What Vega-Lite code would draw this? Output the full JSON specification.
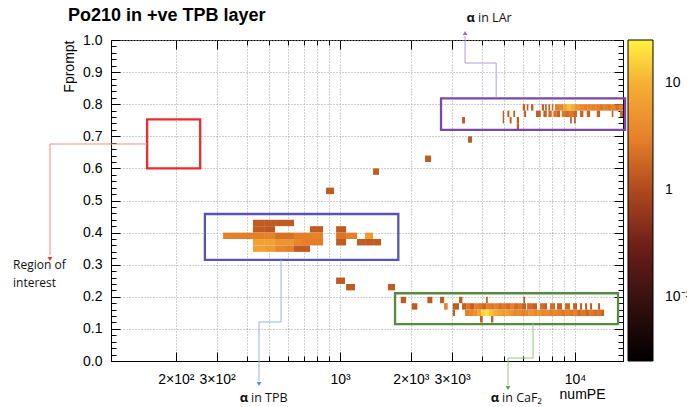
{
"$schema": "https://vega.github.io/schema/vega-lite/v6.json",
"width": 512, "height": 321,
"autosize": {"type": "none"},
"padding": {"left": 111, "top": 40, "right": 64, "bottom": 46},
"background": "white",
"title": {"text": "Po210 in +ve TPB layer", "anchor": "start", "frame": "group", "dx": -43, "offset": -27, "baseline": "alphabetic", "font": "Liberation Sans", "fontSize": 18, "fontWeight": "bold", "color": "#000"},
"config": {"view": {"stroke": "#000", "strokeWidth": 1}, "font": "Liberation Sans"},
"datasets": {
"cells": [
{"a":426,"b":475,"f":0.42,"g":0.44,"n":1.4},{"a":475,"b":529,"f":0.42,"g":0.44,"n":1.4},{"a":529,"b":583,"f":0.42,"g":0.44,"n":1.4},{"a":583,"b":637,"f":0.42,"g":0.44,"n":1.4},
{"a":426,"b":475,"f":0.40,"g":0.42,"n":1.4},{"a":475,"b":529,"f":0.40,"g":0.42,"n":1.3},{"a":745,"b":847,"f":0.40,"g":0.42,"n":1.4},{"a":962,"b":1061,"f":0.40,"g":0.42,"n":1.4},
{"a":318,"b":368,"f":0.38,"g":0.40,"n":3},{"a":368,"b":426,"f":0.38,"g":0.40,"n":3},{"a":426,"b":475,"f":0.38,"g":0.40,"n":3},{"a":475,"b":529,"f":0.38,"g":0.40,"n":3.2},{"a":529,"b":583,"f":0.38,"g":0.40,"n":2.2},{"a":583,"b":637,"f":0.38,"g":0.40,"n":2.2},{"a":637,"b":689,"f":0.38,"g":0.40,"n":3},{"a":689,"b":745,"f":0.38,"g":0.40,"n":3},{"a":745,"b":847,"f":0.38,"g":0.40,"n":3.2},{"a":962,"b":1061,"f":0.38,"g":0.40,"n":2.4},{"a":1061,"b":1181,"f":0.38,"g":0.40,"n":3},{"a":1278,"b":1382,"f":0.38,"g":0.40,"n":6},
{"a":426,"b":475,"f":0.36,"g":0.38,"n":7},{"a":475,"b":529,"f":0.36,"g":0.38,"n":7},{"a":529,"b":583,"f":0.36,"g":0.38,"n":5},{"a":583,"b":637,"f":0.36,"g":0.38,"n":5},{"a":637,"b":689,"f":0.36,"g":0.38,"n":3.5},{"a":689,"b":745,"f":0.36,"g":0.38,"n":3},{"a":745,"b":847,"f":0.36,"g":0.38,"n":2.8},{"a":962,"b":1061,"f":0.36,"g":0.38,"n":1.4},{"a":1181,"b":1278,"f":0.36,"g":0.38,"n":1.4},{"a":1278,"b":1382,"f":0.36,"g":0.38,"n":1.4},{"a":1382,"b":1495,"f":0.36,"g":0.38,"n":1.4},
{"a":426,"b":475,"f":0.34,"g":0.36,"n":7},{"a":475,"b":529,"f":0.34,"g":0.36,"n":6},{"a":529,"b":583,"f":0.34,"g":0.36,"n":3.5},{"a":583,"b":637,"f":0.34,"g":0.36,"n":3},{"a":637,"b":689,"f":0.34,"g":0.36,"n":1.4},{"a":689,"b":745,"f":0.34,"g":0.36,"n":1.4},
{"a":872,"b":943,"f":0.52,"g":0.54,"n":1.4},{"a":1382,"b":1465,"f":0.58,"g":0.60,"n":1.4},{"a":2300,"b":2440,"f":0.62,"g":0.64,"n":1.4},{"a":3505,"b":3645,"f":0.68,"g":0.70,"n":1.4},{"a":962,"b":1050,"f":0.24,"g":0.26,"n":1.4},{"a":1061,"b":1158,"f":0.22,"g":0.24,"n":1.4},{"a":1600,"b":1714,"f":0.22,"g":0.24,"n":1.4},
{"a":1813,"b":1910,"f":0.18,"g":0.20,"n":1.4},{"a":2353,"b":2471,"f":0.18,"g":0.20,"n":1.4},{"a":2664,"b":2771,"f":0.18,"g":0.20,"n":1.4},{"a":3209,"b":3318,"f":0.18,"g":0.20,"n":1.4},{"a":4182,"b":4252,"f":0.18,"g":0.20,"n":1.4},{"a":6026,"b":6128,"f":0.18,"g":0.20,"n":1.4},
{"a":2019,"b":2133,"f":0.16,"g":0.18,"n":1.4},{"a":2771,"b":2872,"f":0.16,"g":0.18,"n":3},{"a":3017,"b":3209,"f":0.16,"g":0.18,"n":1.4},
{"a":3305,"b":3438,"f":0.16,"g":0.18,"n":1.5},{"a":3438,"b":3575,"f":0.16,"g":0.18,"n":2.5},{"a":3575,"b":3718,"f":0.16,"g":0.18,"n":1.5},{"a":3718,"b":3866,"f":0.16,"g":0.18,"n":3},{"a":3866,"b":4021,"f":0.16,"g":0.18,"n":2.5},{"a":4021,"b":4182,"f":0.16,"g":0.18,"n":1.8},{"a":4182,"b":4349,"f":0.16,"g":0.18,"n":3},{"a":4349,"b":4523,"f":0.16,"g":0.18,"n":2.5},{"a":4523,"b":4704,"f":0.16,"g":0.18,"n":3},{"a":4704,"b":4892,"f":0.16,"g":0.18,"n":2.2},{"a":4892,"b":5087,"f":0.16,"g":0.18,"n":2.5},{"a":5087,"b":5291,"f":0.16,"g":0.18,"n":2},{"a":5291,"b":5502,"f":0.16,"g":0.18,"n":3},{"a":5502,"b":5722,"f":0.16,"g":0.18,"n":2},{"a":5722,"b":5951,"f":0.16,"g":0.18,"n":2.5},{"a":5951,"b":6189,"f":0.16,"g":0.18,"n":1.5},{"a":6250,"b":6564,"f":0.16,"g":0.18,"n":2},{"a":6564,"b":6893,"f":0.16,"g":0.18,"n":1.5},{"a":7099,"b":7383,"f":0.16,"g":0.18,"n":2},{"a":7383,"b":7603,"f":0.16,"g":0.18,"n":1.5},{"a":7830,"b":8223,"f":0.16,"g":0.18,"n":2},{"a":8386,"b":8807,"f":0.16,"g":0.18,"n":1.5},{"a":9069,"b":9525,"f":0.16,"g":0.18,"n":1.8},{"a":9809,"b":10201,"f":0.16,"g":0.18,"n":1.5},{"a":10505,"b":10713,"f":0.16,"g":0.18,"n":1.4},{"a":11033,"b":11251,"f":0.16,"g":0.18,"n":1.4},{"a":11587,"b":11816,"f":0.16,"g":0.18,"n":1.4},{"a":12532,"b":12780,"f":0.16,"g":0.18,"n":1.4},
{"a":3017,"b":3086,"f":0.14,"g":0.16,"n":1.4},
{"a":3404,"b":3540,"f":0.14,"g":0.16,"n":3},{"a":3540,"b":3682,"f":0.14,"g":0.16,"n":3.5},{"a":3682,"b":3829,"f":0.14,"g":0.16,"n":4.5},{"a":3829,"b":3982,"f":0.14,"g":0.16,"n":8},{"a":3982,"b":4141,"f":0.14,"g":0.16,"n":17},{"a":4141,"b":4307,"f":0.14,"g":0.16,"n":20},{"a":4307,"b":4479,"f":0.14,"g":0.16,"n":13},{"a":4479,"b":4658,"f":0.14,"g":0.16,"n":9},{"a":4658,"b":4844,"f":0.14,"g":0.16,"n":7},{"a":4844,"b":5038,"f":0.14,"g":0.16,"n":6},{"a":5038,"b":5239,"f":0.14,"g":0.16,"n":7},{"a":5239,"b":5448,"f":0.14,"g":0.16,"n":5},{"a":5448,"b":5666,"f":0.14,"g":0.16,"n":3.5},{"a":5666,"b":5893,"f":0.14,"g":0.16,"n":4},{"a":5893,"b":6128,"f":0.14,"g":0.16,"n":3},{"a":6128,"b":6311,"f":0.14,"g":0.16,"n":3.5},{"a":6311,"b":6628,"f":0.14,"g":0.16,"n":5},{"a":6628,"b":6893,"f":0.14,"g":0.16,"n":4},{"a":6893,"b":7169,"f":0.14,"g":0.16,"n":5},{"a":7169,"b":7455,"f":0.14,"g":0.16,"n":3.5},{"a":7455,"b":7753,"f":0.14,"g":0.16,"n":4},{"a":7753,"b":8063,"f":0.14,"g":0.16,"n":3},{"a":8063,"b":8386,"f":0.14,"g":0.16,"n":3.5},{"a":8386,"b":8721,"f":0.14,"g":0.16,"n":3},{"a":8721,"b":9069,"f":0.14,"g":0.16,"n":2.5},{"a":9069,"b":9432,"f":0.14,"g":0.16,"n":3},{"a":9432,"b":9809,"f":0.14,"g":0.16,"n":2.5},{"a":9809,"b":10201,"f":0.14,"g":0.16,"n":3},{"a":10201,"b":10608,"f":0.14,"g":0.16,"n":2},{"a":10608,"b":11033,"f":0.14,"g":0.16,"n":2.5},{"a":11033,"b":11474,"f":0.14,"g":0.16,"n":1.8},{"a":11474,"b":11933,"f":0.14,"g":0.16,"n":2.5},{"a":11933,"b":12410,"f":0.14,"g":0.16,"n":2},{"a":12410,"b":12906,"f":0.14,"g":0.16,"n":2.2},{"a":12906,"b":13291,"f":0.14,"g":0.16,"n":1.6},
{"a":3943,"b":4047,"f":0.12,"g":0.14,"n":1.4},{"a":4391,"b":4490,"f":0.12,"g":0.14,"n":1.4},
{"a":5992,"b":6128,"f":0.78,"g":0.80,"n":1.4},{"a":6231,"b":6330,"f":0.78,"g":0.80,"n":1.4},{"a":6499,"b":6647,"f":0.78,"g":0.80,"n":1.4},{"a":7218,"b":7382,"f":0.78,"g":0.80,"n":1.5},{"a":7455,"b":7581,"f":0.78,"g":0.80,"n":1.5},{"a":7700,"b":7830,"f":0.78,"g":0.80,"n":1.6},{"a":7961,"b":8087,"f":0.78,"g":0.80,"n":2},{"a":8223,"b":8552,"f":0.78,"g":0.80,"n":3},{"a":8552,"b":8893,"f":0.78,"g":0.80,"n":3.5},{"a":8893,"b":9249,"f":0.78,"g":0.80,"n":8},{"a":9249,"b":9619,"f":0.78,"g":0.80,"n":12},{"a":9619,"b":10003,"f":0.78,"g":0.80,"n":9},{"a":10003,"b":10403,"f":0.78,"g":0.80,"n":5},{"a":10403,"b":10819,"f":0.78,"g":0.80,"n":4},{"a":10819,"b":11251,"f":0.78,"g":0.80,"n":3},{"a":11251,"b":11701,"f":0.78,"g":0.80,"n":3.5},{"a":11701,"b":12169,"f":0.78,"g":0.80,"n":3},{"a":12169,"b":12655,"f":0.78,"g":0.80,"n":3},{"a":12655,"b":13162,"f":0.78,"g":0.80,"n":2.5},{"a":13162,"b":13688,"f":0.78,"g":0.80,"n":3},{"a":13688,"b":14235,"f":0.78,"g":0.80,"n":2.5},{"a":14235,"b":14804,"f":0.78,"g":0.80,"n":3},{"a":14804,"b":15395,"f":0.78,"g":0.80,"n":2.2},{"a":15395,"b":16000,"f":0.78,"g":0.80,"n":3},
{"a":4925,"b":4988,"f":0.76,"g":0.78,"n":1.4},{"a":5153,"b":5254,"f":0.76,"g":0.78,"n":1.4},{"a":5464,"b":5556,"f":0.76,"g":0.78,"n":1.4},{"a":6069,"b":6189,"f":0.76,"g":0.78,"n":1.4},{"a":6826,"b":7148,"f":0.76,"g":0.78,"n":1.4},{"a":7332,"b":7581,"f":0.76,"g":0.78,"n":1.5},{"a":7700,"b":7961,"f":0.76,"g":0.78,"n":2},{"a":8087,"b":8361,"f":0.76,"g":0.78,"n":2.2},{"a":8361,"b":8636,"f":0.76,"g":0.78,"n":1.6},{"a":8781,"b":9069,"f":0.76,"g":0.78,"n":2.5},{"a":9069,"b":9432,"f":0.76,"g":0.78,"n":2},{"a":9432,"b":9809,"f":0.76,"g":0.78,"n":2.5},{"a":9809,"b":10201,"f":0.76,"g":0.78,"n":1.8},{"a":10505,"b":10851,"f":0.76,"g":0.78,"n":1.6},{"a":11218,"b":11587,"f":0.76,"g":0.78,"n":1.6},{"a":12374,"b":12780,"f":0.76,"g":0.78,"n":1.5},{"a":14333,"b":14559,"f":0.76,"g":0.78,"n":1.4},{"a":15547,"b":16000,"f":0.76,"g":0.78,"n":1.8},
{"a":3305,"b":3404,"f":0.74,"g":0.76,"n":1.4},{"a":4925,"b":4988,"f":0.74,"g":0.76,"n":1.4},{"a":5270,"b":5370,"f":0.74,"g":0.76,"n":1.4},{"a":5650,"b":5778,"f":0.74,"g":0.76,"n":1.4},{"a":9525,"b":9685,"f":0.74,"g":0.76,"n":1.4},{"a":9905,"b":10072,"f":0.74,"g":0.76,"n":1.4},
{"a":5650,"b":5778,"f":0.72,"g":0.74,"n":1.4}
],
"boxes": [
{"k":"roi","a":151,"b":254,"f":0.600,"g":0.753},
{"k":"tpb","a":266,"b":1770,"f":0.315,"g":0.458},
{"k":"caf2","a":1714,"b":15240,"f":0.115,"g":0.211},
{"k":"lar","a":2690,"b":16330,"f":0.720,"g":0.818}
],
"links": [
{"k":"roi","o":1,"x":150.9,"y":0.676},{"k":"roi","o":2,"x":58.3,"y":0.676},{"k":"roi","o":3,"x":58.3,"y":0.33},
{"k":"tpb","o":1,"x":561,"y":0.315},{"k":"tpb","o":2,"x":561,"y":0.1215},{"k":"tpb","o":3,"x":452,"y":0.1215},{"k":"tpb","o":4,"x":452,"y":-0.062},
{"k":"caf2","o":1,"x":6627,"y":0.1153},{"k":"caf2","o":2,"x":6627,"y":0.0093},{"k":"caf2","o":3,"x":5187,"y":0.0093},{"k":"caf2","o":4,"x":5187,"y":-0.075},
{"k":"lar","o":1,"x":4617,"y":0.8193},{"k":"lar","o":2,"x":4617,"y":0.9283},{"k":"lar","o":3,"x":3404,"y":0.9283},{"k":"lar","o":4,"x":3404,"y":1.012}
],
"tips": [
{"k":"roi","x":58.3,"y":0.318},{"k":"tpb","x":452,"y":-0.0717},{"k":"caf2","x":5187,"y":-0.0841},{"k":"lar","x":3404,"y":1.0218}
],
"notes": [
{"t":"Region of","x":40.6,"y":0.299},{"t":"interest","x":40.6,"y":0.244}
],
"alabels": [
{"k":"tpb","t":"in TPB","x":410,"y":-0.115},{"k":"caf2","t":"in CaF₂","x":4797,"y":-0.115},{"k":"lar","t":"in LAr","x":3791,"y":1.0685}
]
},
"resolve": {"axis": {"x": "independent", "y": "independent"}, "scale": {"stroke": "independent"}},
"layer": [
{
"data": {"name": "cells"},
"mark": {"type": "rect"},
"encoding": {
"x": {"field": "a", "type": "quantitative", "scale": {"type": "log", "domain": [106, 16000], "nice": false},
 "axis": {"orient": "bottom", "title": "numPE", "values": [200,300,400,500,600,700,800,900,1000,2000,3000,4000,5000,6000,7000,8000,9000,10000],
  "labelExpr": "datum.value==200?'2×10²':datum.value==300?'3×10²':datum.value==1000?'10³':datum.value==2000?'2×10³':datum.value==3000?'3×10³':datum.value==10000?'10⁴':''",
  "grid": true, "gridColor": "#a0a0a0", "gridDash": [1,2], "gridWidth": 1,
  "domain": true, "domainColor": "#000", "tickColor": "#000",
  "tickSize": {"condition": {"test": "indexof([200,300,1000,2000,3000,10000], datum.value) >= 0", "value": -9}, "value": -5},
  "labelPadding": 20, "labelFont": "Liberation Sans", "labelFontSize": 14, "labelColor": "#000", "labelOverlap": false, "labelFlush": false,
  "titleFont": "Liberation Sans", "titleFontSize": 14, "titleFontWeight": "normal", "titleColor": "#000", "titleX": 494, "titleY": 37, "titleAlign": "right", "titleBaseline": "alphabetic", "titleAnchor": null}},
"x2": {"field": "b"},
"y": {"field": "f", "type": "quantitative", "scale": {"domain": [0, 1], "nice": false, "zero": false},
 "axis": {"orient": "left", "title": "Fprompt",
  "values": [0,0.02,0.04,0.06,0.08,0.1,0.12,0.14,0.16,0.18,0.2,0.22,0.24,0.26,0.28,0.3,0.32,0.34,0.36,0.38,0.4,0.42,0.44,0.46,0.48,0.5,0.52,0.54,0.56,0.58,0.6,0.62,0.64,0.66,0.68,0.7,0.72,0.74,0.76,0.78,0.8,0.82,0.84,0.86,0.88,0.9,0.92,0.94,0.96,0.98,1],
  "labelExpr": "abs(datum.value*10-round(datum.value*10))<0.001 ? format(datum.value,'.1f') : ''",
  "grid": true, "gridColor": "#a0a0a0", "gridDash": [1,2], "gridWidth": 1,
  "gridOpacity": {"condition": {"test": "abs(datum.value*10-round(datum.value*10))<0.001", "value": 1}, "value": 0},
  "domain": true, "domainColor": "#000", "tickColor": "#000",
  "tickSize": {"condition": {"test": "abs(datum.value*10-round(datum.value*10))<0.001", "value": -9}, "value": -5},
  "labelPadding": 18, "labelFont": "Liberation Sans", "labelFontSize": 14, "labelColor": "#000", "labelOverlap": false, "labelFlush": false,
  "titleFont": "Liberation Sans", "titleFontSize": 14, "titleFontWeight": "normal", "titleColor": "#000", "titleX": -38, "titleY": 0, "titleAlign": "right", "titleBaseline": "alphabetic", "titleAngle": -90, "titleAnchor": null}},
"y2": {"field": "g"},
"color": {"field": "n", "type": "quantitative",
 "scale": {"type": "log", "domain": [0.025, 0.1, 0.3, 1, 3, 10, 25], "range": ["#000000", "#3a1210", "#6e1f18", "#b04a1e", "#e5802a", "#f5b035", "#fff240"], "interpolate": "rgb"},
 "legend": {"type": "gradient", "direction": "vertical", "orient": "right", "offset": 4, "padding": 0, "gradientLength": 321, "gradientThickness": 25, "title": null,
  "values": [0.1, 1, 10], "labelExpr": "datum.value < 0.5 ? '10⁻¹' : datum.value < 5 ? '1' : '10'",
  "labelFont": "Liberation Sans", "labelFontSize": 14, "labelColor": "#000", "labelOffset": 12, "labelOverlap": false,
  "gradientStrokeColor": "#000", "gradientStrokeWidth": 1}}
}
},
{
"data": {"name": "boxes"},
"mark": {"type": "rect", "filled": false, "strokeWidth": 2.3, "clip": false},
"encoding": {
"x": {"field": "a", "type": "quantitative", "scale": {"type": "log", "domain": [106, 16000], "nice": false},
 "axis": {"orient": "top", "title": null, "labels": false, "grid": false, "domain": false, "tickColor": "#000",
  "values": [200,300,400,500,600,700,800,900,1000,2000,3000,4000,5000,6000,7000,8000,9000,10000],
  "tickSize": {"condition": {"test": "indexof([200,300,1000,2000,3000,10000], datum.value) >= 0", "value": -9}, "value": -5}}},
"x2": {"field": "b"},
"y": {"field": "f", "type": "quantitative", "scale": {"domain": [0, 1], "nice": false, "zero": false},
 "axis": {"orient": "right", "title": null, "labels": false, "grid": false, "domain": false, "tickColor": "#000",
  "values": [0,0.02,0.04,0.06,0.08,0.1,0.12,0.14,0.16,0.18,0.2,0.22,0.24,0.26,0.28,0.3,0.32,0.34,0.36,0.38,0.4,0.42,0.44,0.46,0.48,0.5,0.52,0.54,0.56,0.58,0.6,0.62,0.64,0.66,0.68,0.7,0.72,0.74,0.76,0.78,0.8,0.82,0.84,0.86,0.88,0.9,0.92,0.94,0.96,0.98,1],
  "tickSize": {"condition": {"test": "abs(datum.value*10-round(datum.value*10))<0.001", "value": -9}, "value": -5}}},
"y2": {"field": "g"},
"stroke": {"field": "k", "type": "nominal", "scale": {"domain": ["roi","tpb","caf2","lar"], "range": ["#ee2b2b","#5654b8","#558c3f","#7a48a8"]}, "legend": null}
}
},
{
"data": {"name": "links"},
"mark": {"type": "line", "strokeWidth": 1, "clip": false},
"encoding": {
"x": {"field": "x", "type": "quantitative", "scale": {"type": "log", "domain": [106, 16000], "nice": false}, "axis": null},
"y": {"field": "y", "type": "quantitative", "scale": {"domain": [0, 1], "nice": false, "zero": false}, "axis": null},
"order": {"field": "o"},
"detail": {"field": "k"},
"stroke": {"field": "k", "type": "nominal", "scale": {"domain": ["roi","tpb","caf2","lar"], "range": ["#f28b8b","#94b4e6","#98c486","#b59bd6"]}, "legend": null}
}
},
{
"data": {"name": "tips"},
"transform": [{"filter": "datum.k != 'lar'"}],
"mark": {"type": "point", "shape": "triangle-down", "filled": true, "size": 22, "opacity": 1, "clip": false},
"encoding": {
"x": {"field": "x", "type": "quantitative", "scale": {"type": "log", "domain": [106, 16000], "nice": false}, "axis": null},
"y": {"field": "y", "type": "quantitative", "scale": {"domain": [0, 1], "nice": false, "zero": false}, "axis": null},
"fill": {"field": "k", "type": "nominal", "scale": {"domain": ["roi","tpb","caf2","lar"], "range": ["#e83030","#5a86d6","#5e9a48","#9a6ac8"]}, "legend": null}
}
},
{
"data": {"name": "tips"},
"transform": [{"filter": "datum.k == 'lar'"}],
"mark": {"type": "point", "shape": "triangle-up", "filled": true, "size": 22, "opacity": 1, "clip": false},
"encoding": {
"x": {"field": "x", "type": "quantitative", "scale": {"type": "log", "domain": [106, 16000], "nice": false}, "axis": null},
"y": {"field": "y", "type": "quantitative", "scale": {"domain": [0, 1], "nice": false, "zero": false}, "axis": null},
"fill": {"field": "k", "type": "nominal", "scale": {"domain": ["roi","tpb","caf2","lar"], "range": ["#e83030","#5a86d6","#5e9a48","#9a6ac8"]}, "legend": null}
}
},
{
"data": {"name": "notes"},
"mark": {"type": "text", "align": "left", "baseline": "middle", "font": "Open Sans", "fontSize": 12, "color": "#111", "clip": false},
"encoding": {
"x": {"field": "x", "type": "quantitative", "scale": {"type": "log", "domain": [106, 16000], "nice": false}, "axis": null},
"y": {"field": "y", "type": "quantitative", "scale": {"domain": [0, 1], "nice": false, "zero": false}, "axis": null},
"text": {"field": "t"}
}
},
{
"data": {"name": "alabels"},
"mark": {"type": "text", "text": "α", "align": "right", "baseline": "middle", "font": "Open Sans", "fontSize": 13, "fontWeight": "bold", "color": "#111", "dx": -1, "clip": false},
"encoding": {
"x": {"field": "x", "type": "quantitative", "scale": {"type": "log", "domain": [106, 16000], "nice": false}, "axis": null},
"y": {"field": "y", "type": "quantitative", "scale": {"domain": [0, 1], "nice": false, "zero": false}, "axis": null}
}
},
{
"data": {"name": "alabels"},
"mark": {"type": "text", "align": "left", "baseline": "middle", "font": "Open Sans", "fontSize": 12.5, "color": "#111", "dx": 2, "clip": false},
"encoding": {
"x": {"field": "x", "type": "quantitative", "scale": {"type": "log", "domain": [106, 16000], "nice": false}, "axis": null},
"y": {"field": "y", "type": "quantitative", "scale": {"domain": [0, 1], "nice": false, "zero": false}, "axis": null},
"text": {"field": "t"}
}
}
]
}
